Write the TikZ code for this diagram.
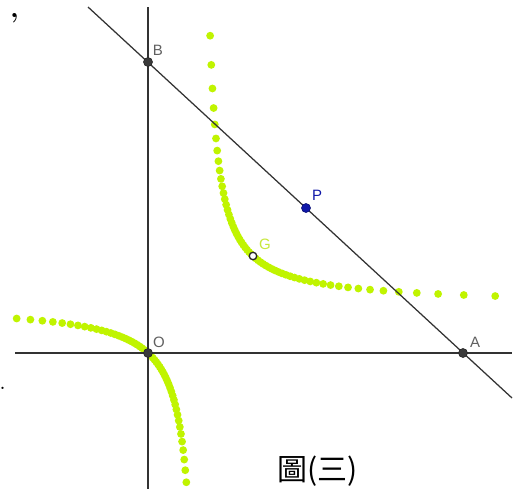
\documentclass[tikz,border=0pt]{standalone}
\usepackage{fontspec}
\newfontfamily\labelfont{Liberation Sans}
\newfontfamily\cjkfont{Noto Sans CJK TC}
\definecolor{axisgray}{HTML}{333333}
\definecolor{locusgreen}{RGB}{192,244,0}
\definecolor{pointgray}{HTML}{3A3A3A}
\definecolor{pblue}{RGB}{16,24,168}
\definecolor{labelgray}{HTML}{606060}
\definecolor{glabel}{RGB}{200,232,60}
\begin{document}
\begin{tikzpicture}[x=1pt,y=-1pt,
  axisline/.style={draw=axisgray,line width=1.35pt},
  locusdot/.style={fill=locusgreen},
  ptdot/.style={circle,inner sep=0pt,minimum size=9pt,fill=pointgray,draw=black!85,line width=0.6pt},
  ptlabel/.style={font=\labelfont\fontsize{15}{15}\selectfont,text=labelgray,inner sep=0pt}]
\useasboundingbox (0,0) rectangle (522,488);
\clip (0,0) rectangle (522,488);
\fill[white] (0,0) rectangle (522,488);
% locus of the centroid: upper-right branch
\foreach \i in {0,...,58}{
  \pgfmathsetmacro\angv{-78.92+1.31*\i-0.11*\i*\i/58}
  \pgfmathsetmacro\mm{tan(\angv)}
  \pgfmathsetmacro\gx{148+(158-145/\mm)/3}
  \pgfmathsetmacro\gy{353-(145-158*\mm)/3}
  \fill[locusdot] (\gx,\gy) circle (3.9pt);
}
% lower-left branch
\foreach \i in {0,...,53}{
  \pgfmathsetmacro\angv{14.72+1.13*\i}
  \pgfmathsetmacro\mm{tan(\angv)}
  \pgfmathsetmacro\gx{148+(158-145/\mm)/3}
  \pgfmathsetmacro\gy{353-(145-158*\mm)/3}
  \fill[locusdot] (\gx,\gy) circle (3.9pt);
}
% axes and line
\coordinate (Xl) at (15,353); \coordinate (Xr) at (512,353);
\coordinate (Yt) at (148,7);  \coordinate (Yb) at (148,490);
\coordinate (Lt) at (88,7);   \coordinate (Lb) at (512,398);
\draw[axisline] (Xl) -- (Xr);
\draw[axisline] (Yt) -- (Yb);
\draw[axisline,line width=1.25pt] (Lt) -- (Lb);
% points
\node[ptdot] (O) at (148,353) {};
\node[ptdot] (A) at (463,353) {};
\node[ptdot] (B) at (148,62) {};
\node[ptdot,fill=pblue,draw=pblue!70!black] (P) at (306,208) {};
\node[circle,inner sep=0pt,minimum size=7.5pt,draw=black!85,fill=white,line width=1.3pt] (G) at (253,256) {};
% labels
\node[ptlabel] (Blab) at (158,50) {B};
\node[ptlabel] (Olab) at (159,342) {O};
\node[ptlabel] (Alab) at (475,342) {A};
\node[ptlabel,text=pblue] (Plab) at (317,195) {P};
\node[ptlabel,text=glabel] (Glab) at (265,244) {G};
% caption and stray punctuation
\node[font=\cjkfont\fontsize{30}{30}\selectfont,inner sep=0pt] (cap) at (317.5,471) {圖(三)};
\node[font=\bfseries\fontsize{28}{28}\selectfont,inner sep=0pt,anchor=base west] (comma) at (10,17) {,};
\node[font=\fontsize{28}{28}\selectfont,inner sep=0pt,anchor=base west] (period) at (-1,389.5) {.};
\end{tikzpicture}
\end{document}
